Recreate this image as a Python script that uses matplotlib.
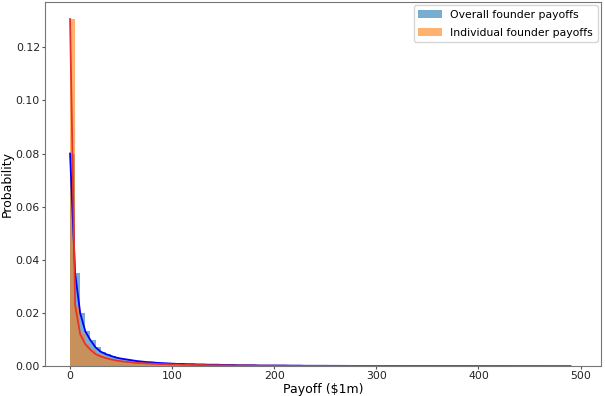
import numpy as np
import matplotlib
matplotlib.use('Agg')
import matplotlib.pyplot as plt

# Histogram bins (left edges, width 5 in $1m)
BIN_W = 5
bin_left = np.arange(0, 495, BIN_W)

overall_density = [
    0.0800, 0.0349, 0.0199, 0.0131, 0.0098, 0.0071, 0.0055, 0.0046, 0.0039, 0.0033,
    0.0029, 0.0026, 0.0023, 0.0020, 0.0018, 0.0016, 0.0015, 0.0013, 0.0012, 0.0011,
    0.0010, 0.0009, 0.0009, 0.0008, 0.0008, 0.0007, 0.0007, 0.0006, 0.0006, 0.0006,
    0.0005, 0.0005, 0.0005, 0.0004, 0.0004, 0.0004, 0.0004, 0.0003, 0.0003, 0.0003,
    0.0003, 0.0003, 0.0003, 0.00025, 0.00025, 0.00025, 0.0002, 0.0002, 0.0002, 0.0002,
    0.0002, 0.00018, 0.00018, 0.00017, 0.00016, 0.00015, 0.00015, 0.00014, 0.00014, 0.00013,
    0.00013, 0.00012, 0.00012, 0.00011, 0.00011, 0.0001, 0.0001, 0.0001, 0.00009, 0.00009,
    0.00009, 0.00008, 0.00008, 0.00008, 0.00007, 0.00007, 0.00007, 0.00007, 0.00006, 0.00006,
    0.00006, 0.00006, 0.00005, 0.00005, 0.00005, 0.00005, 0.00005, 0.00004, 0.00004, 0.00004,
    0.00004, 0.00004, 0.00004, 0.00003, 0.00003, 0.00003, 0.00003, 0.00003, 0.00003,
]

individual_density = [
    0.1306, 0.0229, 0.0120, 0.0083, 0.0062, 0.0046, 0.0037, 0.0031, 0.0026, 0.0022,
    0.0019, 0.0017, 0.0015, 0.0013, 0.0012, 0.0011, 0.0010, 0.0009, 0.0008, 0.0008,
    0.0007, 0.0007, 0.0006, 0.0006, 0.0005, 0.0005, 0.0005, 0.0004, 0.0004, 0.0004,
    0.00035, 0.00035, 0.0003, 0.0003, 0.0003, 0.00028, 0.00026, 0.00025, 0.00024, 0.00023,
    0.00022, 0.0002, 0.0002, 0.00019, 0.00018, 0.00017, 0.00016, 0.00016, 0.00015, 0.00015,
    0.00014, 0.00014, 0.00013, 0.00013, 0.00012, 0.00012, 0.00011, 0.00011, 0.0001, 0.0001,
    0.0001, 0.00009, 0.00009, 0.00009, 0.00008, 0.00008, 0.00008, 0.00008, 0.00007, 0.00007,
    0.00007, 0.00007, 0.00006, 0.00006, 0.00006, 0.00006, 0.00006, 0.00005, 0.00005, 0.00005,
    0.00005, 0.00005, 0.00005, 0.00004, 0.00004, 0.00004, 0.00004, 0.00004, 0.00004, 0.00004,
    0.00003, 0.00003, 0.00003, 0.00003, 0.00003, 0.00003, 0.00003, 0.00003, 0.00003,
]

fig = plt.figure(figsize=(6.05, 3.96), dpi=100)
ax = fig.add_axes([0.074, 0.075, 0.919, 0.92])

ax.bar(bin_left, overall_density, width=BIN_W, align='edge',
       color='tab:blue', alpha=0.6, linewidth=0, label='Overall founder payoffs')
ax.bar(bin_left, individual_density, width=BIN_W, align='edge',
       color='tab:orange', alpha=0.6, linewidth=0, label='Individual founder payoffs')

ax.plot(bin_left, overall_density, color='blue', lw=1.3)
ax.plot(bin_left, individual_density, color='#e8322a', lw=1.3)

ax.set_xlim(-24.75, 519.75)
ax.set_ylim(0, 0.137)
ax.set_xticks([0, 100, 200, 300, 400, 500])
ax.set_yticks([0.0, 0.02, 0.04, 0.06, 0.08, 0.10, 0.12])
ax.yaxis.set_major_formatter(matplotlib.ticker.FormatStrFormatter('%.2f'))
ax.tick_params(labelsize=7.8, length=2, pad=1.5, color='#555555', labelcolor='#222222')
for s in ax.spines.values():
    s.set_color('#777777')
    s.set_linewidth(0.8)

ax.set_xlabel('Payoff ($1m)', fontsize=9, labelpad=1)
ax.set_ylabel('Probability', fontsize=9, labelpad=1)
ax.legend(loc='upper right', fontsize=7.8, framealpha=0.8, borderaxespad=0.3,
          labelspacing=0.75, handlelength=2.2)

fig.savefig('out.png', dpi=100)
